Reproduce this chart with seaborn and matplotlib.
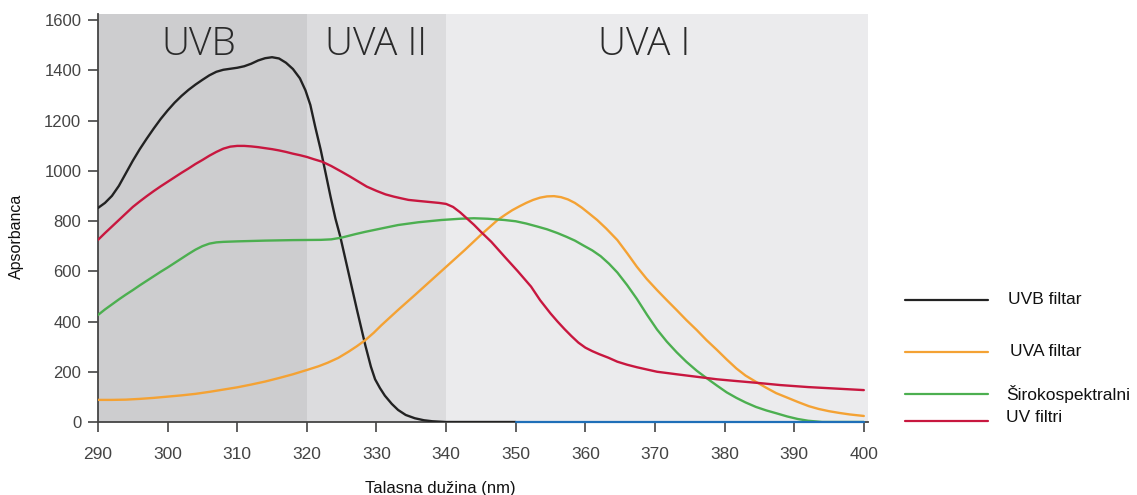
import matplotlib
matplotlib.use("Agg")
import matplotlib.pyplot as plt
from matplotlib.lines import Line2D
import seaborn as sns

# ---------------- data ----------------
uvb_nm = [290, 291, 292, 293, 294, 295, 296, 297, 298, 299, 300, 301, 302, 303, 304, 305, 306, 307,
          308, 309, 310, 311, 312, 313, 314, 315, 316, 317, 318, 319, 319.8, 320.5, 321.2, 322,
          322.7, 323.4, 324.1, 324.8, 326, 327.2, 328.4, 329.2, 329.8, 330.5, 331.2, 332.2, 333.1,
          334.2, 335.5, 336.8, 338, 340, 350]
uvb_val = [852, 872, 900, 940, 990, 1040, 1086, 1128, 1168, 1206, 1240, 1271, 1298, 1322, 1343,
           1362, 1380, 1394, 1402, 1406, 1410, 1416, 1426, 1439, 1448, 1452, 1447, 1430, 1405,
           1368, 1320, 1262, 1175, 1082, 990, 897, 810, 738, 592, 446, 305, 220, 170, 135, 105,
           72, 48, 28, 15, 7, 3, 0, 0]

uva_nm = [290, 292, 294, 296, 298, 300, 302, 304, 306, 308, 310, 312, 314, 316, 318, 320, 321.7,
          323, 324.5, 326, 327.2, 328.4, 329.6, 330.7, 333.1, 335.5, 337.9, 340.3, 342.7, 345,
          347.4, 348.5, 349.5, 350.5, 351.5, 352.5, 353.5, 354.5, 355.5, 356.5, 357.5, 358.5,
          359.5, 360.5, 361.7, 363, 364.6, 366, 367.4, 368.8, 370.3, 371.7, 373.1, 374.5, 376,
          377.4, 378.9, 380.3, 381.7, 383, 384.5, 386, 387.4, 389, 390.5, 392.1, 393.5, 395,
          396.5, 398, 400]
uva_val = [88, 88, 89, 92, 96, 101, 106, 112, 120, 129, 138, 149, 161, 175, 190, 207, 222,
           236, 255, 280, 302, 326, 355, 385, 446, 505, 565, 625, 685, 745,
           804, 825, 843, 858, 872, 884, 893, 898, 899, 895, 886, 872,
           853, 831, 804, 770, 724, 672, 618, 570, 525, 485, 446, 406, 366,
           326, 287, 249, 213, 185, 160, 136, 115, 97, 80, 63, 52, 43,
           36, 30, 24]

broad_nm = [290, 291, 292, 293, 294, 295, 296, 297, 298, 299, 300, 301, 302, 303, 304, 305, 306,
            307, 308, 310, 314, 318, 322, 323.5, 325, 327, 328.4, 331, 333.1, 336, 339.3, 342,
            344, 346, 348.4, 350, 351.5, 353.1, 354.5, 356, 357.3, 358.5, 359.7, 361, 362.2,
            363.4, 364.6, 366, 367.4, 368.9, 370.3, 371.7, 373.1, 374.5, 376, 377.4, 378.9,
            380.3, 381.7, 383, 384.5, 386, 387.4, 389, 390.5, 392, 394, 400]
broad_val = [426, 448, 468, 488, 507, 525, 544, 562, 580, 598, 615, 633, 651, 669, 686, 700, 710,
             715, 717, 719, 722, 724, 725, 727, 734, 748, 757, 772, 784, 795, 804, 809,
             811, 809, 804, 799, 790, 778, 767, 752, 737, 722, 703, 683, 660,
             630, 595, 545, 490, 425, 368, 320, 278, 240, 204, 175, 145,
             118, 96, 78, 60, 46, 35, 22, 12, 5, 0, 0]

uvf_nm = [290, 291, 292, 293, 294, 295, 296, 297, 298, 299, 300, 301, 302, 303, 304, 305, 306,
          307, 308, 309, 310, 311, 312, 313, 314, 315, 316, 317, 318, 319, 320, 321, 322.2,
          323.5, 325, 326.2, 327.4, 328.6, 330, 331.3, 332.5, 333.6, 334.6, 336, 337.5, 339,
          340, 341, 342, 343, 344, 345, 346.5, 348.4, 350.3, 352.2, 353.5, 355, 356, 357, 358,
          359, 360, 361, 362, 363.3, 364.6, 366, 367.4, 369, 370.3, 372, 373.1, 376, 378.9,
          381.7, 385, 388, 392, 396, 400]
uvf_val = [725, 752, 778, 804, 830, 856, 878, 899, 919, 938, 956, 974, 992, 1009, 1027, 1043,
           1060, 1075, 1088, 1096, 1099, 1099, 1097, 1094, 1090, 1086, 1081, 1075, 1068, 1062,
           1055, 1046, 1036, 1019, 996, 977, 957, 937, 920, 906, 897, 890, 884, 880, 876, 872,
           868, 856, 835, 810, 785, 757, 717, 658, 600, 539, 485, 432, 400, 370, 342,
           316, 296, 282, 270, 256, 240, 228, 218, 208, 200, 194, 190, 180, 170,
           163, 155, 147, 139, 133, 127]

base_nm = [350, 400]
base_val = [0, 0]

bands = ["UVB", "UVA II", "UVA I"]
band_edges = [(290, 320), (320, 340), (340, 401)]
band_label_x = [304.5, 330, 368.5]
band_label_y = 1500

series_labels = ["UVB filtar", "UVA filtar", "Širokospektralni", "UV filtri"]
xticks = list(range(290, 401, 10))
yticks = list(range(0, 1601, 200))
xlabel = "Talasna dužina (nm)"
ylabel = "Apsorbanca"

# ---------------- style ----------------
sns.set_theme(style="white")
plt.rcParams['font.family'] = ['Liberation Sans', 'DejaVu Sans']

colors = ["#222222", "#f4a234", "#4caf50", "#c8173f"]
band_colors = ["#cdcdcf", "#dcdcde", "#ebebed"]

fig = plt.figure(figsize=(11.37, 4.95), dpi=100)
ax = fig.add_axes([98 / 1137, 1 - 422 / 495, 770 / 1137, 408 / 495])

for (a, b), c in zip(band_edges, band_colors):
    ax.axvspan(a, b, color=c, lw=0, zorder=0)

for name, x in zip(bands, band_label_x):
    ax.text(x, band_label_y, name, ha="center", va="center", fontsize=28,
            color="#2a2a2a", family=["Open Sans", "DejaVu Sans"], fontweight="light", zorder=5)

sns.lineplot(x=base_nm, y=base_val, ax=ax, color="#1f6fb8", lw=1.6, zorder=6, clip_on=False)
datasets = [(uvb_nm, uvb_val), (uva_nm, uva_val), (broad_nm, broad_val), (uvf_nm, uvf_val)]
for (x, y), c in zip(datasets, colors):
    sns.lineplot(x=x, y=y, ax=ax, color=c, lw=1.7, sort=False, zorder=4)

ax.set_xlim(290, 400.6)
ax.set_ylim(0, 1624)
ax.set_xticks(xticks)
ax.set_yticks(yticks)
ax.set_xticklabels([str(t) for t in xticks], fontsize=12.5, color="#444444")
ax.set_yticklabels([str(t) for t in yticks], fontsize=12, color="#444444")
ax.tick_params(axis="x", direction="out", length=7, width=1.2, color="#444444", pad=11, bottom=True)
ax.tick_params(axis="y", direction="out", length=7, width=1.2, color="#444444", pad=5, left=True)

for s in ["top", "right"]:
    ax.spines[s].set_visible(False)
for s in ["left", "bottom"]:
    ax.spines[s].set_color("#444444")
    ax.spines[s].set_linewidth(1.3)

ax.set_xlabel(xlabel, fontsize=12, color="#111111")
ax.xaxis.set_label_coords(0.445, -0.145)
ax.set_ylabel(ylabel, fontsize=11.5, color="#111111")
ax.yaxis.set_label_coords(-0.096, 0.455)

# legend (manually spaced like the original)
leg_y = [300, 352, 394, 421]
txt_y = [300, 352, 394, 417]
txt_x = [1008, 1010, 1006, 1006]
for lab, c, ly, ty, tx in zip(series_labels, colors, leg_y, txt_y, txt_x):
    fig.add_artist(Line2D([905 / 1137, 988 / 1137], [1 - ly / 495, 1 - ly / 495],
                          color=c, lw=1.6, transform=fig.transFigure))
    fig.text(tx / 1137, 1 - ty / 495, lab, ha="left", va="center", fontsize=12.5, color="#111111")

fig.savefig("out.png", dpi=100)
